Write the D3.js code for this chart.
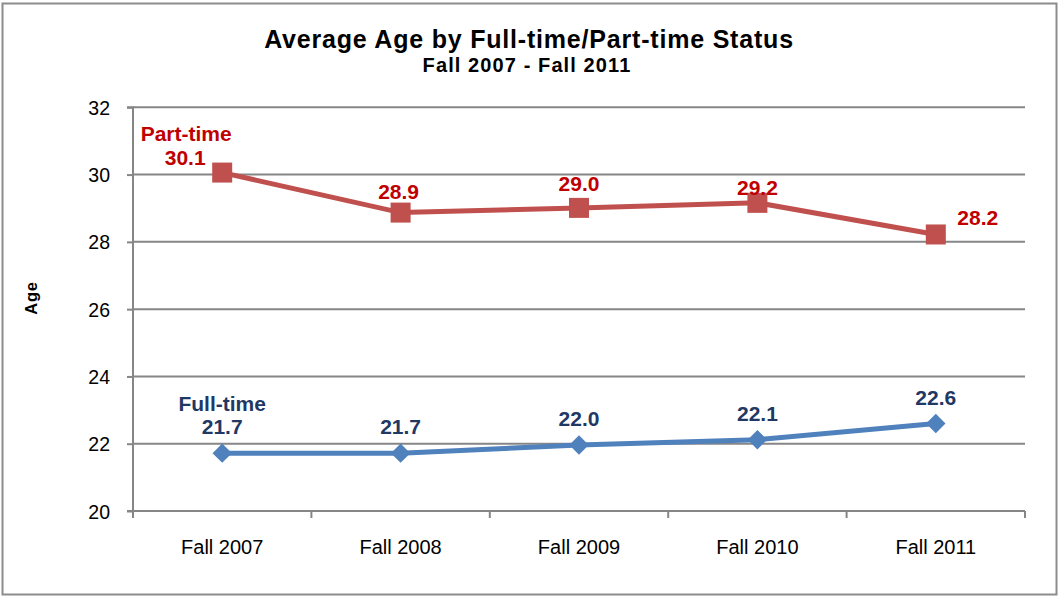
<!DOCTYPE html>
<html><head><meta charset="utf-8">
<script src="https://cdn.jsdelivr.net/npm/d3@7"></script>
<style>body{margin:0;background:#fff;} svg{display:block;font-family:"Liberation Sans",Arial,sans-serif;}</style>
</head><body>
<svg id="c" width="1059" height="596"></svg>
<script>
const categories = ["Fall 2007","Fall 2008","Fall 2009","Fall 2010","Fall 2011"];
const partTime = [30.06, 28.87, 29.01, 29.16, 28.22];
const fullTime = [21.72, 21.72, 21.96, 22.12, 22.6];
const yTicks = [20,22,24,26,28,30,32];

const svg = d3.select("#c");
svg.append("rect").attr("x",2.5).attr("y",3.5).attr("width",1054).attr("height",591)
  .attr("fill","#fff").attr("stroke","#8c8c8c").attr("stroke-width",2);

const L=133, R=1025, T=107.3, B=511;
const x = d3.scaleBand().domain(categories).range([L,R]);
const y = d3.scaleLinear().domain([20,32]).range([B,T]);
const cx = d => x(d)+x.bandwidth()/2;
const FF = "Liberation Sans, Arial, sans-serif";

// gridlines
svg.append("g").selectAll("line").data(yTicks.filter(t=>t>20)).join("line")
  .attr("x1",L).attr("x2",R).attr("y1",d=>y(d)).attr("y2",d=>y(d))
  .attr("stroke","#868686").attr("stroke-width",2);

// y axis
const ya = svg.append("g").attr("transform",`translate(${L},0)`)
  .call(d3.axisLeft(y).tickValues(yTicks).tickSize(6).tickPadding(17).tickFormat(d3.format("d")));
ya.select(".domain").attr("stroke","#868686").attr("stroke-width",2).attr("d",`M-6,${T}H0V${B}H-6`);
ya.selectAll(".tick line").attr("stroke","#868686").attr("stroke-width",2);
ya.selectAll(".tick text").attr("font-size",19.5).attr("fill","#000").attr("font-family",FF).attr("dy","0.36em");

// x axis
const xa = svg.append("g").attr("transform",`translate(0,${B})`)
  .call(d3.axisBottom(x).tickSize(0));
xa.select(".domain").attr("stroke","#868686").attr("stroke-width",2).attr("d",`M${L},0H${R}`);
xa.selectAll(".tick text").attr("font-size",20).attr("fill","#000").attr("font-family",FF)
  .attr("y",43).attr("dy",0);
const bounds = categories.map(c=>x(c)).concat([R]);
svg.append("g").selectAll("line").data(bounds).join("line")
  .attr("x1",d=>d).attr("x2",d=>d).attr("y1",B).attr("y2",B+7)
  .attr("stroke","#868686").attr("stroke-width",2);

// titles
svg.append("text").attr("x",529).attr("y",48.3).attr("text-anchor","middle")
  .attr("font-size",25).attr("font-weight","bold").attr("letter-spacing",0.8)
  .text("Average Age by Full-time/Part-time Status");
svg.append("text").attr("x",527).attr("y",71.7).attr("text-anchor","middle")
  .attr("font-size",20).attr("font-weight","bold").attr("letter-spacing",1.1)
  .text("Fall 2007 - Fall 2011");
svg.append("text").attr("transform","translate(36.5,298) rotate(-90)").attr("text-anchor","middle")
  .attr("font-size",16.5).attr("font-weight","bold").attr("letter-spacing",0.8).text("Age");

const line = d3.line().x((d,i)=>cx(categories[i])).y(d=>y(d));
const red="#C0504D", blue="#4F81BD";

svg.append("path").datum(partTime).attr("d",line).attr("fill","none").attr("stroke",red).attr("stroke-width",5);
svg.append("path").datum(fullTime).attr("d",line).attr("fill","none").attr("stroke",blue).attr("stroke-width",5);

svg.append("g").selectAll("rect").data(partTime).join("rect")
  .attr("x",(d,i)=>cx(categories[i])-10).attr("y",d=>y(d)-10).attr("width",20).attr("height",20).attr("fill",red);
svg.append("g").selectAll("path").data(fullTime).join("path")
  .attr("d",d3.symbol().type(d3.symbolDiamond2).size(240))
  .attr("transform",(d,i)=>`translate(${cx(categories[i])},${y(d)})`).attr("fill",blue);

const fmt = d3.format(".1f");
// part-time labels (offsets from marker)
const pOff = [[-37,-7.7],[-2,-13.4],[0,-17],[0,-8],[42,-9.3]];
svg.append("g").selectAll("text").data(partTime).join("text")
  .attr("x",(d,i)=>cx(categories[i])+pOff[i][0]).attr("y",(d,i)=>y(d)+pOff[i][1])
  .attr("text-anchor","middle").attr("font-size",21).attr("font-weight","bold").attr("fill","#C00000")
  .text(d=>fmt(d));
svg.append("text").attr("x",cx(categories[0])-36).attr("y",y(partTime[0])-32)
  .attr("text-anchor","middle").attr("font-size",21).attr("font-weight","bold").attr("fill","#C00000").text("Part-time");

svg.append("g").selectAll("text").data(fullTime).join("text")
  .attr("x",(d,i)=>cx(categories[i])).attr("y",d=>y(d)-19)
  .attr("text-anchor","middle").attr("font-size",21).attr("font-weight","bold").attr("fill","#1F3864")
  .text(d=>fmt(d));
svg.append("text").attr("x",cx(categories[0])).attr("y",y(fullTime[0])-42.6)
  .attr("text-anchor","middle").attr("font-size",21).attr("font-weight","bold").attr("fill","#1F3864").text("Full-time");
</script>
</body></html>
